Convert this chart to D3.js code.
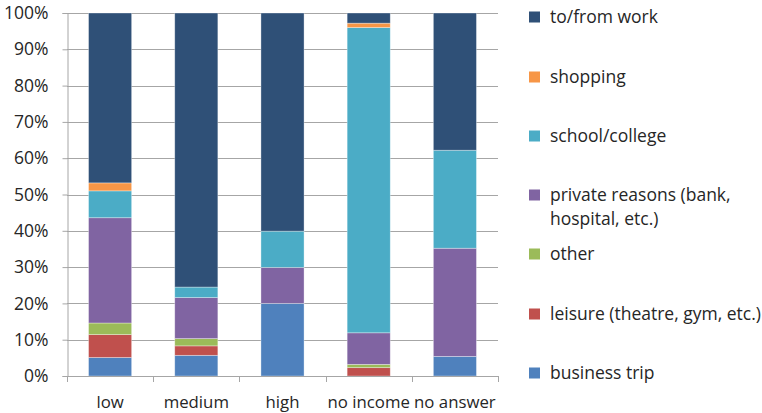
<!DOCTYPE html>
<html>
<head>
<meta charset="utf-8">
<script src="https://cdn.jsdelivr.net/npm/d3@7"></script>
<style>
  body { margin: 0; background: #fff; }
  svg { display: block; font-family: "Open Sans", Lato, sans-serif; }
</style>
</head>
<body>
<svg id="chart" width="762" height="413"></svg>
<script>
// Income groups along the x axis
const categories = ["low", "medium", "high", "no income", "no answer"];

// Share of trips (%) per purpose, bottom to top of each stack
const businessTrip = [5.1, 5.7, 20.0, 0.0, 5.4];
const leisure      = [6.3, 2.6, 0.0, 2.3, 0.0];
const other        = [3.2, 2.0, 0.0, 0.9, 0.0];
const privateReasons = [29.0, 11.3, 9.9, 8.7, 29.8];
const school       = [7.4, 2.9, 10.0, 84.1, 27.0];
const shopping     = [2.2, 0.0, 0.0, 1.2, 0.0];
const toFromWork   = [46.8, 75.5, 60.1, 2.8, 37.8];

const yTicks = [0, 10, 20, 30, 40, 50, 60, 70, 80, 90, 100];

const series = [
  { name: "business trip", values: businessTrip, color: "#4F81BD" },
  { name: "leisure (theatre, gym, etc.)", values: leisure, color: "#C0504D" },
  { name: "other", values: other, color: "#9BBB59" },
  { name: "private reasons (bank, hospital, etc.)", lines: ["private reasons (bank,", "hospital, etc.)"], values: privateReasons, color: "#8064A2" },
  { name: "school/college", values: school, color: "#4BACC6" },
  { name: "shopping", values: shopping, color: "#F79646" },
  { name: "to/from work", values: toFromWork, color: "#2F5077" }
];

const FONT = "'Open Sans', Lato, sans-serif";
const FS = "17.5px";
const svg = d3.select("#chart");
const plotLeft = 67, plotRight = 498, plotTop = 13, plotBottom = 376;

const x = d3.scaleBand().domain(categories).range([plotLeft, plotRight]).paddingInner(0.5).paddingOuter(0.25);
const y = d3.scaleLinear().domain([0, 100]).range([plotBottom, plotTop]);

// Horizontal gridlines
svg.append("g")
  .selectAll("line")
  .data(yTicks.filter(t => t > 0))
  .join("line")
  .attr("x1", plotLeft).attr("x2", plotRight)
  .attr("y1", d => Math.round(y(d)) + 0.5).attr("y2", d => Math.round(y(d)) + 0.5)
  .attr("stroke", "#A6A6A6").attr("stroke-width", 1);

// Stacked bars
const rows = categories.map((c, i) => {
  const r = { cat: c };
  series.forEach(s => { r[s.name] = s.values[i]; });
  return r;
});
const stack = d3.stack().keys(series.map(s => s.name));
const layers = stack(rows);

svg.append("g")
  .selectAll("g")
  .data(layers)
  .join("g")
  .attr("fill", (d, i) => series[i].color)
  .selectAll("rect")
  .data(d => d.filter(p => p[1] - p[0] > 0))
  .join("rect")
  .attr("x", d => x(d.data.cat))
  .attr("width", x.bandwidth())
  .attr("y", d => y(d[1]))
  .attr("height", d => y(d[0]) - y(d[1]))
  .attr("stroke", "rgba(255,255,255,0.45)")
  .attr("stroke-width", 0.75);

// Y axis
const yAxis = d3.axisLeft(y).tickValues(yTicks).tickFormat(d => d + "%").tickSize(5).tickPadding(14);
const gy = svg.append("g").attr("transform", `translate(${plotLeft + 0.5},0)`).call(yAxis);
gy.select(".domain").attr("stroke", "#A6A6A6");
gy.selectAll(".tick line").attr("stroke", "#A6A6A6");
gy.selectAll(".tick text").attr("fill", "#262626").style("font-size", FS).style("font-family", FONT);

// X axis with tick marks between the categories
svg.append("line")
  .attr("x1", plotLeft).attr("x2", plotRight).attr("y1", plotBottom + 0.5).attr("y2", plotBottom + 0.5)
  .attr("stroke", "#A6A6A6");
const step = (plotRight - plotLeft) / categories.length;
svg.append("g")
  .selectAll("line")
  .data(d3.range(categories.length + 1))
  .join("line")
  .attr("x1", i => Math.round(plotLeft + i * step) + 0.5).attr("x2", i => Math.round(plotLeft + i * step) + 0.5)
  .attr("y1", plotBottom).attr("y2", plotBottom + 6)
  .attr("stroke", "#A6A6A6");
svg.append("g")
  .selectAll("text")
  .data(categories)
  .join("text")
  .attr("x", d => x(d) + x.bandwidth() / 2)
  .attr("y", 408)
  .attr("text-anchor", "middle")
  .attr("fill", "#262626")
  .style("font-size", "16.8px")
  .text(d => d);

// Legend, top to bottom matching the stack order reversed
const legendItems = series.slice().reverse();
const legendY = [17, 77, 136, 195, 254, 314, 373];
const lg = svg.append("g");
legendItems.forEach((s, i) => {
  const cy = legendY[i];
  lg.append("rect").attr("x", 529).attr("y", cy - 5.5).attr("width", 11).attr("height", 11).attr("fill", s.color);
  const lines = s.lines || [s.name];
  lines.forEach((t, j) => {
    lg.append("text")
      .attr("x", 550).attr("y", cy + 6 + j * 24)
      .attr("fill", "#262626")
      .style("font-size", FS)
      .text(t);
  });
});
</script>
</body>
</html>
